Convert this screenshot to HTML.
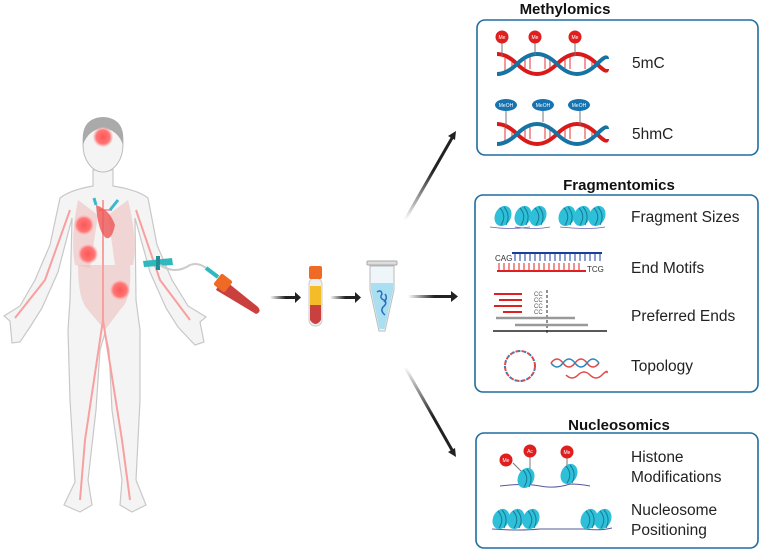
<!DOCTYPE html>
<html><head><meta charset="utf-8"><style>
html,body{margin:0;padding:0;background:#fff;}
svg{display:block;font-family:"Liberation Sans",sans-serif;}
.t{font-size:15.5px;fill:#222;}
.h{font-size:15px;font-weight:bold;fill:#111;text-anchor:middle;}
</style></head><body>
<svg width="765" height="551" viewBox="0 0 765 551" xmlns="http://www.w3.org/2000/svg">
<defs>
<linearGradient id="ga" x1="0" x2="1"><stop offset="0" stop-color="#fff"/><stop offset="0.6" stop-color="#222"/></linearGradient>
<linearGradient id="gu" x1="0" y1="1" x2="0" y2="0"><stop offset="0" stop-color="#fff"/><stop offset="0.6" stop-color="#222"/></linearGradient>
<linearGradient id="gd" x1="0" y1="0" x2="0" y2="1"><stop offset="0" stop-color="#fff"/><stop offset="0.6" stop-color="#222"/></linearGradient>
<radialGradient id="tum"><stop offset="0" stop-color="#f55"/><stop offset="0.7" stop-color="#f77"/><stop offset="1" stop-color="#fbb" stop-opacity="0.3"/></radialGradient>
<g id="nuc"><ellipse cx="0" cy="0" rx="8" ry="10.5" fill="#2fbfd8" transform="rotate(25)"/><path d="M-3,-8 Q4,0 -2,9 M1,-9 Q8,-1 3,9" stroke="#137c94" stroke-width="1" fill="none"/></g>
</defs>

<!-- body -->
<path d="M93,170 L93,186 Q70,190 60,198 L50,245 L35,280 L20,306 L4,316 L10,321 L12,343 L20,342 L30,327 L42,308 L58,272 L72,218 L70,300 L68,330 L70,400 L75,482 L64,505 L80,512 L92,505 L88,480 L96,410 L100,350 L105,333 L109,350 L112,410 L122,480 L120,505 L132,512 L146,505 L136,480 L140,400 L140,330 L136,300 L135,218 L150,272 L166,308 L178,327 L195,345 L204,342 L200,322 L206,317 L188,306 L172,280 L157,245 L148,198 Q138,190 113,186 L113,170 Z" fill="#f4f4f4" stroke="#c8c8c8" stroke-width="1.2"/>
<ellipse cx="103" cy="145" rx="20" ry="27" fill="#f4f4f4" stroke="#bdbdbd"/>
<path d="M83,145 Q80,118 103,117 Q126,118 123,145 Q118,130 103,128 Q88,130 83,145Z" fill="#aaa"/>
<!-- organs -->
<path d="M78,200 Q70,240 75,265 L90,268 L98,215 Z M128,200 Q138,240 133,265 L115,265 L108,215Z" fill="#f0c8c8" opacity="0.7"/>
<path d="M78,265 L130,265 Q132,300 120,310 L105,330 L88,310 Q78,300 78,265Z" fill="#ecc0c0" opacity="0.6"/>
<path d="M99,210 L112,210 M103,200 L103,320 M103,320 L85,440 M103,320 L122,440 M70,210 L45,280 L15,318 M136,210 L160,280 L190,320 M85,440 L80,500 M122,440 L130,500" stroke="#f8a0a0" stroke-width="2" fill="none"/>
<path d="M96,205 Q110,210 115,225 Q112,240 106,238 Q98,232 96,205Z" fill="#e55" opacity="0.8"/>
<path d="M96,205 L94,198 M110,210 L118,200" stroke="#3bb7d0" stroke-width="3"/>
<circle cx="103" cy="137" r="10" fill="url(#tum)"/>
<circle cx="84" cy="225" r="10" fill="url(#tum)"/>
<circle cx="88" cy="254" r="10" fill="url(#tum)"/>
<circle cx="120" cy="290" r="10" fill="url(#tum)"/>
<!-- tourniquet & tube -->
<path d="M143,261 L172,258 L173,265 L144,267Z" fill="#2fb8bd"/>
<rect x="156" y="256" width="4" height="14" fill="#1d8f95"/>
<path d="M160,265 Q175,275 190,265 Q198,262 206,268" stroke="#ccc" stroke-width="2" fill="none"/>
<path d="M206,268 L218,277" stroke="#2fb8bd" stroke-width="4"/>
<path d="M222,278 L258,307 Q262,312 256,314 L216,290Z" fill="#c9403f"/>
<rect x="216" y="276" width="14" height="14" rx="2" fill="#ef6a25" transform="rotate(38 223 283)"/>
<!-- arrows -->
<rect x="270" y="296" width="26" height="3" fill="url(#ga)"/><path d="M295,292 L301,297.5 L295,303Z" fill="#222"/>
<rect x="330" y="296" width="26" height="3" fill="url(#ga)"/><path d="M355,292 L361,297.5 L355,303Z" fill="#222"/>
<rect x="408" y="295" width="44" height="3" fill="url(#ga)"/><path d="M451,291 L458,296.5 L451,302Z" fill="#222"/>
<path d="M405,220 L452,138" stroke="url(#gu)" stroke-width="3"/><path d="M448,136 L456,131 L455,140Z" fill="#222"/>
<path d="M405,367 L452,450" stroke="url(#gd)" stroke-width="3"/><path d="M448,452 L456,457 L455,448Z" fill="#222"/>
<!-- small tube -->
<rect x="309" y="278" width="13" height="48" rx="6" fill="#eee" stroke="#ccc"/>
<rect x="310" y="286" width="11" height="19" fill="#f5bc2a"/>
<path d="M310,305 L321,305 L321,320 Q315.5,328 310,320Z" fill="#c9403f"/>
<rect x="309" y="266" width="13" height="13" rx="2" fill="#ef6a25"/>
<!-- eppendorf -->
<rect x="367" y="261" width="30" height="4" rx="1" fill="#ddd" stroke="#aaa"/>
<path d="M370,266 L394,266 L394,290 L385,331 L379,331 L370,290Z" fill="#eef6fa" stroke="#bbb"/>
<path d="M371,283 L393,283 L393,290 L384.5,329 L379.5,329 L371,290Z" fill="#a9dff0"/>
<path d="M377,292 q4,-3 5,2 q-3,4 2,6 q4,3 -1,7 q-3,4 2,8 M385,294 q3,4 -1,8" stroke="#2a6fc0" stroke-width="1.5" fill="none"/>

<!-- Methylomics -->
<text class="h" x="565" y="14">Methylomics</text>
<rect x="477" y="20" width="281" height="135" rx="8" fill="none" stroke="#1e6ea0" stroke-width="1.6"/>
<g id="dna1">
<path d="M505,58v14M512,62v8M525,60v8M530,57v12M545,57v12M550,60v8M565,60v8M570,57v12M585,57v12M592,60v8" stroke="#f29a9a" stroke-width="2"/>
<path d="M497,54 q10,0 20,10 t20,10 t20,-10 t20,-10 t20,10 t10,5" stroke="#d81a1a" stroke-width="4" fill="none"/>
<path d="M497,74 q10,0 20,-10 t20,-10 t20,10 t20,10 t20,-10 t10,-5" stroke="#1673a4" stroke-width="4" fill="none"/>
</g>
<path d="M502,43v13M535,43v12M575,43v13" stroke="#777" stroke-width="1"/>
<circle cx="502" cy="37" r="6.5" fill="#e01e1e"/><circle cx="535" cy="37" r="6.5" fill="#e01e1e"/><circle cx="575" cy="37" r="6.5" fill="#e01e1e"/>
<text x="502" y="39" font-size="5" fill="#fff" text-anchor="middle">Me</text><text x="535" y="39" font-size="5" fill="#fff" text-anchor="middle">Me</text><text x="575" y="39" font-size="5" fill="#fff" text-anchor="middle">Me</text>
<text class="t" x="632" y="68">5mC</text>
<use href="#dna1" transform="translate(0,70)"/>
<path d="M506,110v16M543,110v12M580,110v15" stroke="#777" stroke-width="1"/>
<ellipse cx="506" cy="105" rx="11" ry="6" fill="#1673b0"/><ellipse cx="543" cy="105" rx="11" ry="6" fill="#1673b0"/><ellipse cx="579" cy="105" rx="11" ry="6" fill="#1673b0"/>
<text x="506" y="107" font-size="5" fill="#fff" text-anchor="middle">MeOH</text><text x="543" y="107" font-size="5" fill="#fff" text-anchor="middle">MeOH</text><text x="579" y="107" font-size="5" fill="#fff" text-anchor="middle">MeOH</text>
<text class="t" x="632" y="139">5hmC</text>

<!-- Fragmentomics -->
<text class="h" x="619" y="190">Fragmentomics</text>
<rect x="475" y="195" width="283" height="197" rx="8" fill="none" stroke="#1e6ea0" stroke-width="1.6"/>
<path d="M490,227 q20,3 40,0 M515,227 q20,3 35,0 M560,227 q30,3 45,0" stroke="#6a5fb0" stroke-width="0.8" fill="none"/>
<use href="#nuc" x="503" y="216"/>
<use href="#nuc" x="523" y="216"/><use href="#nuc" x="538" y="216"/>
<use href="#nuc" x="567" y="216"/><use href="#nuc" x="582" y="216"/><use href="#nuc" x="597" y="216"/>
<text class="t" x="631" y="222">Fragment Sizes</text>
<path d="M512,253 L602,253" stroke="#1a3ea0" stroke-width="2"/>
<path d="M515,253v8M520,253v8M525,253v8M530,253v8M535,253v8M540,253v8M545,253v8M550,253v8M555,253v8M560,253v8M565,253v8M570,253v8M575,253v8M580,253v8M585,253v8M590,253v8M595,253v8M600,253v8" stroke="#1a3ea0" stroke-width="1"/>
<path d="M497,271 L586,271" stroke="#e02020" stroke-width="2"/>
<path d="M499,263v8M504,263v8M509,263v8M514,263v8M519,263v8M524,263v8M529,263v8M534,263v8M539,263v8M544,263v8M549,263v8M554,263v8M559,263v8M564,263v8M569,263v8M574,263v8M579,263v8" stroke="#e02020" stroke-width="1"/>
<text x="495" y="261" font-size="8" fill="#333">CAG</text><text x="587" y="272" font-size="8" fill="#333">TCG</text>
<text class="t" x="631" y="273">End Motifs</text>
<path d="M494,294H522M499,300H522M494,306H522M503,312H522" stroke="#e02020" stroke-width="2"/>
<text x="534" y="296" font-size="6" fill="#555">CC</text><text x="534" y="302" font-size="6" fill="#555">CC</text><text x="534" y="308" font-size="6" fill="#555">CC</text><text x="534" y="314" font-size="6" fill="#555">CC</text>
<path d="M547,290V333" stroke="#222" stroke-width="1" stroke-dasharray="3,2"/>
<path d="M496,318H575M515,325H588" stroke="#999" stroke-width="2.5"/>
<path d="M493,331H607" stroke="#222" stroke-width="1.5"/>
<text class="t" x="631" y="321">Preferred Ends</text>
<circle cx="520" cy="366" r="15" fill="none" stroke="#e04a4a" stroke-width="2" stroke-dasharray="4,2"/>
<circle cx="520" cy="366" r="15" fill="none" stroke="#2a88c0" stroke-width="2" stroke-dasharray="2,4" stroke-dashoffset="3"/>
<path d="M551,363 q6,-8 12,0 t12,0 t12,0 t12,0" stroke="#e04a4a" stroke-width="1.5" fill="none"/>
<path d="M551,363 q6,8 12,0 t12,0 t12,0 t12,0" stroke="#2a88c0" stroke-width="1.5" fill="none"/>
<path d="M566,375 q6,6 12,0 t12,0 t12,0 t5,-2" stroke="#e04a4a" stroke-width="1.5" fill="none"/>
<text class="t" x="631" y="371">Topology</text>

<!-- Nucleosomics -->
<text class="h" x="619" y="430">Nucleosomics</text>
<rect x="476" y="433" width="282" height="115" rx="8" fill="none" stroke="#1e6ea0" stroke-width="1.6"/>
<path d="M500,486 q25,-3 40,0 q15,3 30,-2 q10,0 20,2" stroke="#555a99" stroke-width="1" fill="none"/>
<path d="M513,463 L522,472 M530,452 L530,470 M567,455 L567,467" stroke="#777"/>
<use href="#nuc" x="526" y="478"/><use href="#nuc" x="569" y="474"/>
<circle cx="506" cy="460" r="6.5" fill="#e01e1e"/><circle cx="530" cy="451" r="6.5" fill="#e01e1e"/><circle cx="567" cy="452" r="6.5" fill="#e01e1e"/>
<text x="506" y="462" font-size="5" fill="#fff" text-anchor="middle">Me</text><text x="530" y="453" font-size="5" fill="#fff" text-anchor="middle">Ac</text><text x="567" y="454" font-size="5" fill="#fff" text-anchor="middle">Me</text>
<text class="t" x="631" y="462">Histone</text><text class="t" x="631" y="482">Modifications</text>
<path d="M492,529 Q520,531 540,529 L585,529 Q600,531 612,528" stroke="#555a99" stroke-width="1" fill="none"/>
<use href="#nuc" x="501" y="519"/><use href="#nuc" x="516" y="519"/><use href="#nuc" x="531" y="519"/>
<use href="#nuc" x="589" y="519"/><use href="#nuc" x="603" y="519"/>
<text class="t" x="631" y="515">Nucleosome</text><text class="t" x="631" y="535">Positioning</text>
</svg>
</body></html>
